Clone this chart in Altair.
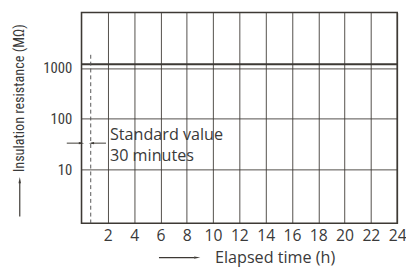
import altair as alt
import pandas as pd

# --- data ---
x_ticks = [2, 4, 6, 8, 10, 12, 14, 16, 18, 20, 22, 24]
y_ticks = [10, 100, 1000]
measured_start, measured_end, measured_value = 0, 24, 1195   # measured resistance line
std_time = 0.7          # dashed "30 minutes" marker (h)
std_top = 1830
ann_y = 33
ann_left = [-1.12, 0.0]
ann_right = [1.86, 0.75]
ann_texts = ["Standard value", "30 minutes"]
ann_text_y = [38, 14.9]
ann_text_x = 2.16

Y_MIN, Y_MAX = 0.863, 12500
INK = "#3d3934"
TXT = "#3a3a3a"
NARROW = "Liberation Sans Narrow, Roboto Condensed, DejaVu Sans Condensed, Liberation Sans, sans-serif"
REG = "Open Sans, Noto Sans, sans-serif"

xs = alt.Scale(domain=[0, 24], nice=False, zero=False)
ys = alt.Scale(type="log", domain=[Y_MIN, Y_MAX], nice=False)

xa = alt.Axis(
    values=x_ticks, grid=True, gridColor=INK, gridOpacity=0.9, gridWidth=1,
    domain=False, ticks=False, labelFont=REG, labelFontSize=16, labelColor=TXT,
    labelPadding=5, labelFlush=False,
    title="Elapsed time (h)", titleFont=REG, titleFontSize=16.5, titleFontWeight="normal",
    titleColor=TXT, titleX=197, titleY=35, titleAlign="center", titleBaseline="middle")
ya = alt.Axis(
    values=y_ticks, grid=True, gridColor=INK, gridOpacity=0.9, gridWidth=1,
    domain=False, ticks=False, labelFont=NARROW, labelFontSize=15, labelColor=TXT,
    labelPadding=10, format="d",
    title="Insulation resistance (MΩ)", titleFont=NARROW, titleFontSize=14.5,
    titleFontWeight="normal", titleColor=TXT, titleAngle=-90, titleX=-63, titleY=87,
    titleAlign="center", titleBaseline="middle")


def X(f="x"):
    return alt.X(f"{f}:Q", scale=xs, axis=xa)


def Y(f="y"):
    return alt.Y(f"{f}:Q", scale=ys, axis=ya)


line_df = pd.DataFrame({"x": [measured_start], "x2": [measured_end], "y": [measured_value]})
base = alt.Chart(line_df).mark_rule(color=INK, strokeWidth=2).encode(x=X(), x2="x2:Q", y=Y())

dash_df = pd.DataFrame({"x": [std_time], "y": [std_top], "y2": [Y_MIN]})
dashed = alt.Chart(dash_df).mark_rule(color="#555", strokeWidth=1, strokeDash=[4, 3]).encode(
    x=X(), y=Y(), y2="y2:Q")

arr_df = pd.DataFrame({"x": [ann_left[0], ann_right[0]], "x2": [ann_left[1], ann_right[1]],
                       "y": [ann_y, ann_y]})
arrows = alt.Chart(arr_df).mark_rule(color=INK, strokeWidth=1).encode(x=X(), x2="x2:Q", y=Y())

head_r = alt.Chart(pd.DataFrame({"x": [ann_left[1]], "y": [ann_y]})).mark_point(
    shape="M1,0 L-1,-0.45 L-1,0.45 Z", filled=True, color=INK, opacity=1, size=30).encode(
    x=X(), y=Y())
head_l = alt.Chart(pd.DataFrame({"x": [ann_right[1]], "y": [ann_y]})).mark_point(
    shape="M-1,0 L1,-0.45 L1,0.45 Z", filled=True, color=INK, opacity=1, size=30).encode(
    x=X(), y=Y())

txt_df = pd.DataFrame({"x": [ann_text_x] * 2, "y": ann_text_y, "t": ann_texts})
texts = alt.Chart(txt_df).mark_text(align="left", baseline="alphabetic", font=REG,
                                    fontSize=16.5, color=TXT).encode(
    x=X(), y=Y(), text="t:N")

# decorative arrows beside the axis titles
deco = pd.DataFrame({"k": [0]})
y_arrow = alt.Chart(deco).mark_rule(color=INK, strokeWidth=1.2).encode(
    x=alt.value(-63), y=alt.value(208), y2=alt.value(174))
y_head = alt.Chart(deco).mark_point(shape="M0,-1 L-0.4,1 L0.4,1 Z", filled=True, color=INK,
                                    opacity=1, size=40).encode(x=alt.value(-63), y=alt.value(171))
x_arrow = alt.Chart(deco).mark_rule(color=INK, strokeWidth=1.2).encode(
    x=alt.value(79), x2=alt.value(115), y=alt.value(250))
x_head = alt.Chart(deco).mark_point(shape="M1,0 L-1,-0.4 L-1,0.4 Z", filled=True, color=INK,
                                    opacity=1, size=40).encode(x=alt.value(118), y=alt.value(250))

chart = alt.layer(base, dashed, arrows, head_r, head_l, texts, y_arrow, y_head, x_arrow, x_head).properties(
    width=322, height=215, autosize="none",
    padding={"left": 75, "top": 2, "right": 9, "bottom": 45},
    background="white",
).configure_view(stroke=INK, strokeWidth=1.6)

chart.save("out.html", embed_options={"renderer": "svg", "actions": False})
